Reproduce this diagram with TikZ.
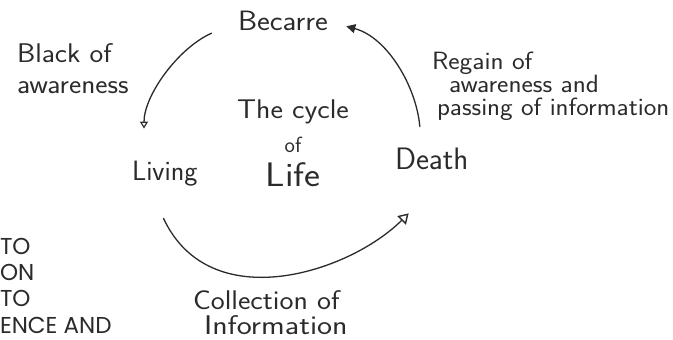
\documentclass[tikz,border=0pt]{standalone}
\usepackage{fontspec}
\newfontfamily\printfont{Poppins}
\usetikzlibrary{arrows.meta}
\definecolor{ink}{HTML}{2B2B2B}
\newcommand\widen[2][1.1]{\scalebox{#1}[1]{#2}}
\begin{document}
\begin{tikzpicture}[x=1pt,y=1pt,
  hand/.style={inner sep=0pt, outer sep=0pt, text=ink},
  conn/.style={draw=ink, line width=1.3pt, line cap=round},
  smalltip/.style={-{Triangle[open,length=7pt,width=8pt,line width=1.2pt]}},
  bigtip/.style={-{Triangle[open,length=10pt,width=12pt,line width=1.4pt]}},
  solidtip/.style={-{Triangle[length=9pt,width=9pt]}}]
\useasboundingbox (0,0) rectangle (673,340);
\fill[white] (0,0) rectangle (673,340);

\node[hand, anchor=base, font=\sffamily\fontsize{28}{34}\selectfont] (becarre) at (283,309) {\widen[1.09]{Becarre}};
\node[hand, anchor=north west, align=left, font=\sffamily\fontsize{27}{31}\selectfont] (block) at (17,296) {\widen[1.08]{Black of}\\\widen[1.08]{awareness}};
\node[hand, anchor=north, align=center, font=\sffamily\fontsize{27}{34}\selectfont] (cycle) at (293,240) {\widen{The cycle}\\{\fontsize{22}{34}\selectfont of}\\{\fontsize{34}{36}\selectfont\widen[1.12]{Life}}};
\node[hand, anchor=base west, font=\sffamily\fontsize{28}{34}\selectfont] (living) at (132,159) {Living};
\node[hand, anchor=base west, font=\sffamily\fontsize{31}{36}\selectfont] (death) at (395,170) {Death};
\node[hand, anchor=north west, align=left, font=\sffamily\fontsize{25}{23}\selectfont] (regain) at (432,288) {\widen[1.08]{Regain of}\\\hspace*{17pt}\widen[1.08]{awareness and}\\\hspace*{5pt}\widen[1.07]{passing of information}};
\node[hand, anchor=north west, align=left, font=\sffamily\fontsize{27}{25}\selectfont] (collect) at (193,49) {\widen{Collection of}\\\hspace*{11pt}\widen[1.18]{Information}};
\node[hand, anchor=south west, font=\printfont\fontsize{23}{26.2}\selectfont] (cut) at (0,-1) {\begin{tabular}{@{}l@{}}TO\\ON\\TO\\ENCE AND\end{tabular}};

\draw[conn, smalltip, shorten <=29pt, shorten >=33pt] (becarre.west) to[out=204, in=90] ([xshift=12pt]living.north west);
\draw[conn, solidtip, shorten <=22pt, shorten >=19pt] ([xshift=-10pt]death.north) to[out=95, in=-15] (becarre.east);
\draw[conn, bigtip, shorten <=35pt, shorten >=61pt] ([xshift=-16pt]living.south) to[out=-65, in=225, looseness=1.22] ([xshift=20pt]death.south);
\end{tikzpicture}
\end{document}
